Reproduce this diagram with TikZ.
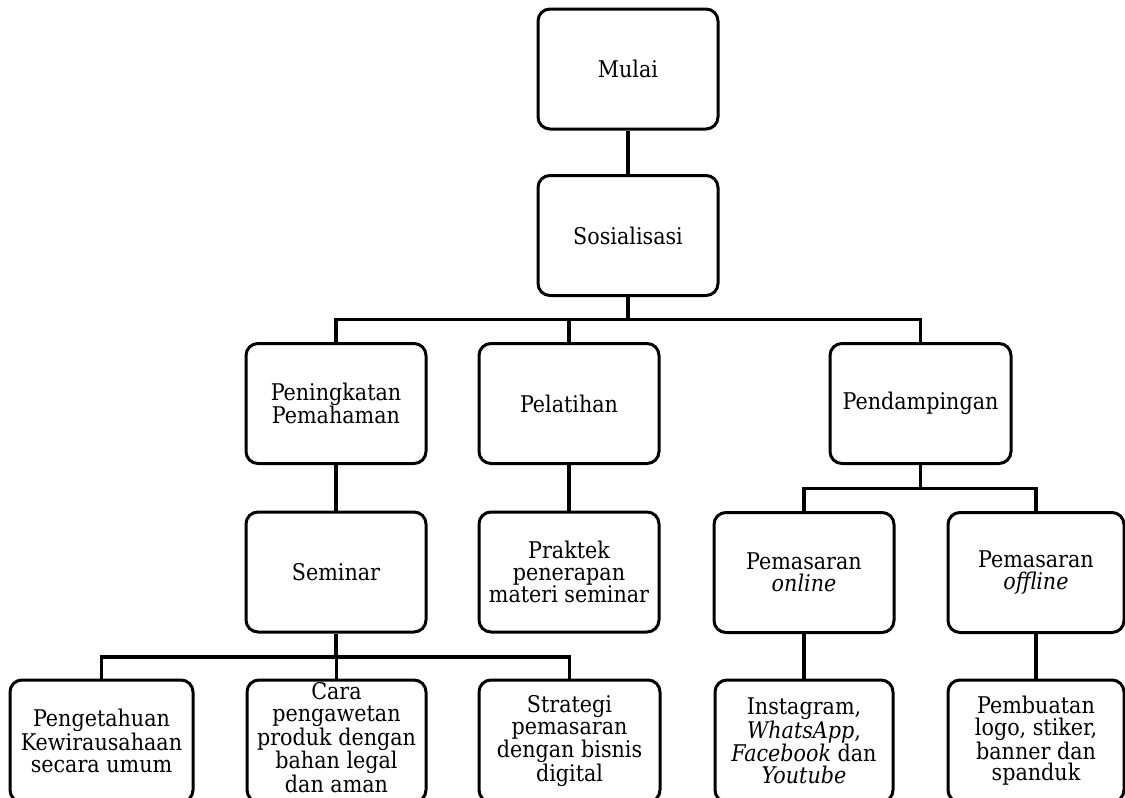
\documentclass[tikz,border=0pt]{standalone}
\usepackage{fontspec}
\setmainfont{DejaVu Serif Condensed}
\begin{document}
\begin{tikzpicture}[x=1pt,y=-1pt,
  box/.style={draw=black, line width=3pt, rounded corners=12pt, fill=white,
    minimum width=#1, minimum height=120pt, inner sep=0pt, align=center,
    font=\fontsize{23}{21.7}\selectfont},
  box/.default=180pt,
  conn/.style={draw=black, line width=3.2pt}]
\useasboundingbox (0,0) rectangle (1125,798);
\clip (0,0) rectangle (1125,798);
% nodes
\node[box] (mulai) at (628,69) {Mulai};
\node[box] (sos) at (628,235.5) {Sosialisasi};
\node[box] (pen) at (336,403.5) {Peningkatan\\Pemahaman};
\node[box] (pel) at (569,403.5) {Pelatihan};
\node[box=181pt] (pend) at (920.5,403.5) {Pendampingan};
\node[box] (sem) at (336,572) {Seminar};
\node[box] (prak) at (569,572) {Praktek\\penerapan\\materi seminar};
\node[box] (online) at (804,572.5) {Pemasaran\\\textit{online}};
\node[box=176pt] (offline) at (1036,572.5) {Pemasaran\\\textit{offline}};
\node[box=183pt, minimum height=122pt] (peng) at (101.5,741) {Pengetahuan\\Kewirausahaan\\secara umum};
\node[box=179pt, minimum height=122pt, text depth=7pt] (cara) at (336.5,741) {Cara\\pengawetan\\produk dengan\\bahan legal\\dan aman};
\node[box=181pt, minimum height=122pt] (strat) at (569.5,741) {Strategi\\pemasaran\\dengan bisnis\\digital};
\node[box=178pt, minimum height=122pt] (insta) at (804,741) {Instagram,\\\textit{WhatsApp},\\\textit{Facebook} dan\\\textit{Youtube}};
\node[box=176pt, minimum height=122pt] (pemb) at (1036,741) {Pembuatan\\logo, stiker,\\banner dan\\spanduk};
% junctions
\coordinate (j1) at (628,319.5);
\coordinate (j2) at (920.5,488.5);
\coordinate (j3) at (336,657);
% connectors
\draw[conn] (mulai) -- (sos);
\draw[conn] (sos.south) -- (j1);
\draw[conn] (pen.north) |- (j1) -| (pend.north);
\draw[conn] (pel.north) -- (pel.north |- j1);
\draw[conn] (pen) -- (sem);
\draw[conn] (pel) -- (prak);
\draw[conn] (pend.south) -- (j2);
\draw[conn] (online.north) |- (j2) -| (offline.north);
\draw[conn] (sem.south) -- (j3);
\draw[conn] (peng.north) |- (j3) -| (strat.north);
\draw[conn] (cara.north) -- (cara.north |- j3);
\draw[conn] (online) -- (insta);
\draw[conn] (offline) -- (pemb);
\end{tikzpicture}
\end{document}
